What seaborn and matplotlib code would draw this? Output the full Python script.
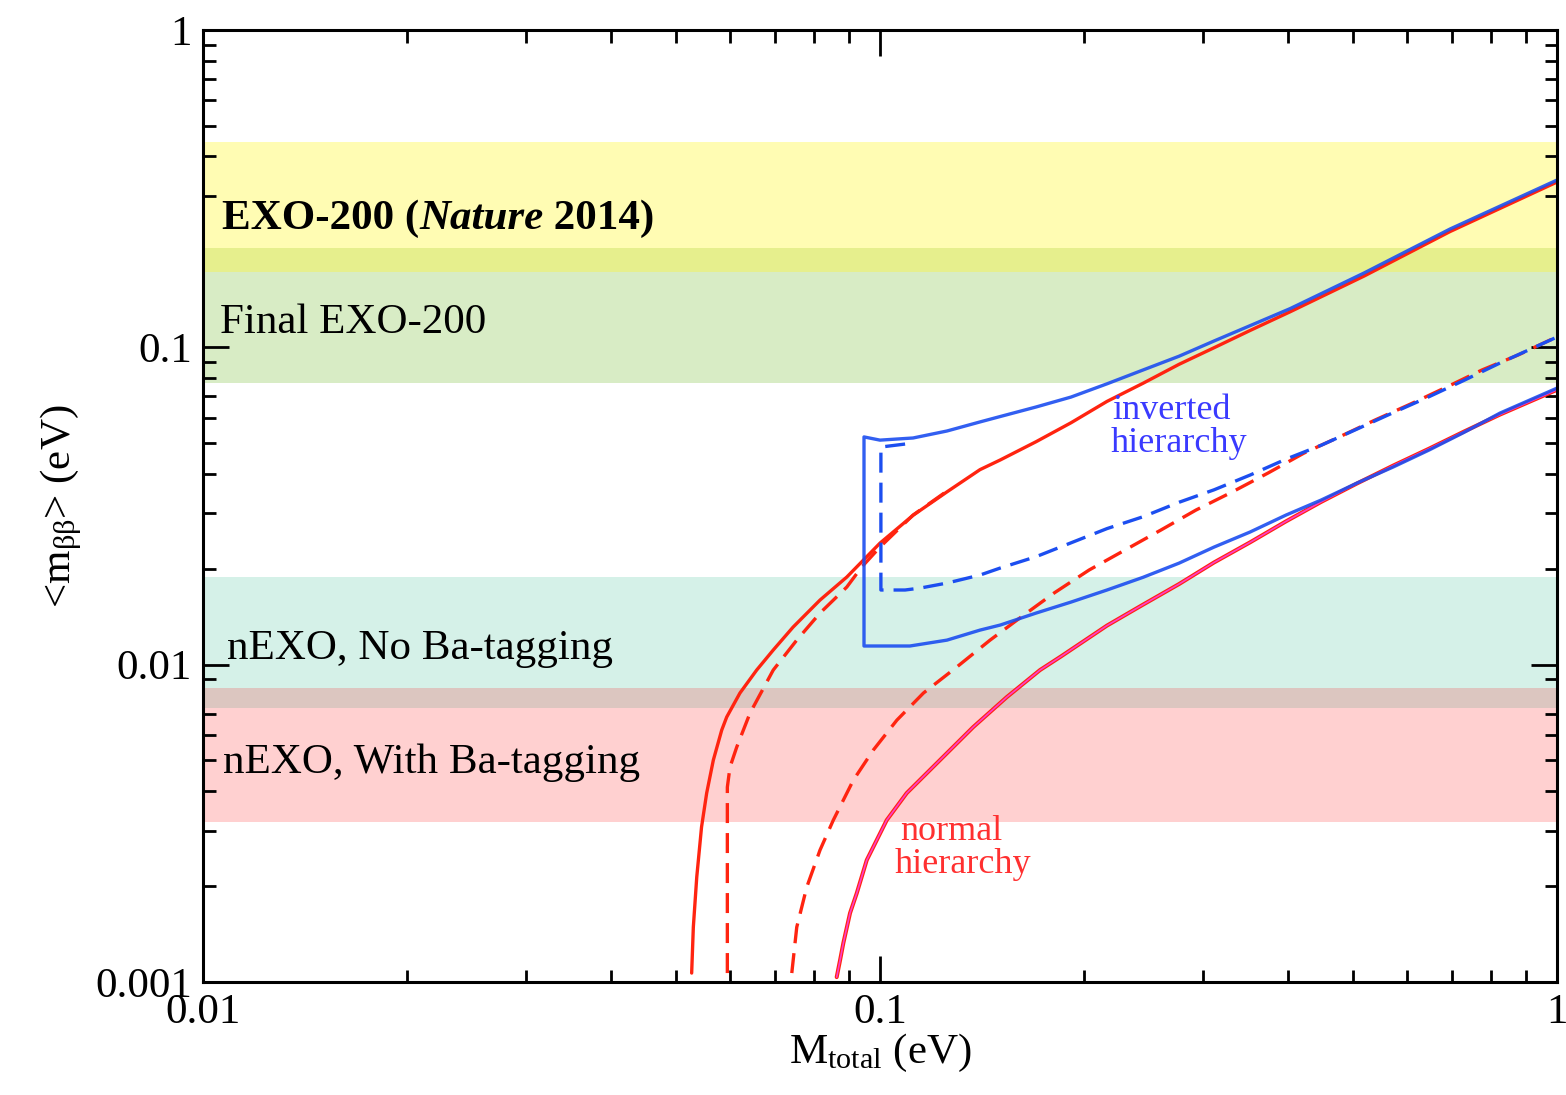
import numpy as np
import pandas as pd
import matplotlib
matplotlib.use("Agg")
import matplotlib.pyplot as plt
import seaborn as sns
from matplotlib.ticker import FixedLocator, FixedFormatter, LogLocator, NullFormatter

# ---------------- data ----------------
# Inverted hierarchy, solid: upper edge (right->left), vertical edge, lower edge (left->right)
ih_upper_x = [1.0, 0.695, 0.5187, 0.4033, 0.3114, 0.2765, 0.2445, 0.2164, 0.1915, 0.1700,
              0.1505, 0.1405, 0.1256, 0.1119, 0.1, 0.0947]
ih_upper_y = [0.3367, 0.2360, 0.1715, 0.1324, 0.1047, 0.09376, 0.08481, 0.07674, 0.06972, 0.06486,
              0.06053, 0.0582, 0.0545, 0.0518, 0.0510, 0.0522]
ih_lower_x = [0.0947, 0.1107, 0.1256, 0.1405, 0.1505, 0.1700, 0.1915, 0.2164, 0.2445, 0.2765,
              0.3114, 0.3520, 0.3978, 0.4483, 0.5065, 0.5725, 0.6470, 0.7287, 0.8239, 1.0]
ih_lower_y = [0.01145, 0.01145, 0.01195, 0.01285, 0.01333, 0.01454, 0.01575, 0.01719, 0.01884, 0.02089,
              0.02347, 0.02618, 0.02961, 0.03302, 0.03736, 0.04195, 0.04746, 0.05395, 0.06208, 0.0744]

# Inverted hierarchy, dashed
ih_dash_x = [0.1089, 0.1003, 0.1003, 0.1089, 0.1146, 0.1256, 0.1405, 0.1505, 0.1700, 0.1915,
             0.2164, 0.2445, 0.2765, 0.3114, 0.3520, 0.3978, 0.4483, 0.5065, 0.5725, 0.6470,
             0.7287, 0.8239, 0.9765, 1.0]
ih_dash_y = [0.04957, 0.04851, 0.01719, 0.01719, 0.01743, 0.01808, 0.01916, 0.02016, 0.02189, 0.02421,
             0.02684, 0.02924, 0.03249, 0.03556, 0.03958, 0.04443, 0.04914, 0.05527, 0.06223, 0.06989,
             0.07870, 0.08929, 0.10532, 0.1078]

# Normal hierarchy, upper solid
nh_max_x = [0.0527, 0.0530, 0.05362, 0.0545, 0.05546, 0.05673, 0.05837, 0.05937, 0.0621, 0.06574,
            0.06955, 0.0744, 0.08154, 0.08931, 0.1, 0.1119, 0.1256, 0.1405, 0.1505, 0.1700,
            0.1915, 0.2164, 0.2445, 0.2765, 0.3114, 0.3520, 0.4033, 0.5187, 0.695, 1.0]
nh_max_y = [0.001067, 0.001489, 0.002141, 0.003078, 0.003938, 0.005003, 0.006219, 0.006838, 0.008137, 0.009616,
            0.01112, 0.01313, 0.01598, 0.01888, 0.02416, 0.02956, 0.03505, 0.04117, 0.04416, 0.05041,
            0.05786, 0.06755, 0.07701, 0.08841, 0.09970, 0.1130, 0.1294, 0.1677, 0.2317, 0.3319]

# Normal hierarchy, upper dashed
nh_max_dash_x = [0.0595, 0.0595, 0.06004, 0.06143, 0.06427, 0.06955, 0.07534, 0.08154, 0.08931,
                 0.09397, 0.1, 0.1119, 0.1256]
nh_max_dash_y = [0.001067, 0.004113, 0.004757, 0.005499, 0.007039, 0.009616, 0.01195, 0.01454, 0.01756,
                 0.02031, 0.02348, 0.02961, 0.03525]

# Normal hierarchy, lower dashed
nh_min_dash_x = [0.07408, 0.07534, 0.07795, 0.08154, 0.08531, 0.09134, 0.09775, 0.1059, 0.1159, 0.1298,
                 0.1454, 0.1616, 0.1807, 0.2036, 0.2300, 0.2600, 0.2929, 0.3311, 0.3742, 0.4229,
                 0.4765, 0.5385, 0.6085, 0.6855, 0.7746, 0.8758, 0.9765, 1.0]
nh_min_dash_y = [0.001067, 0.001489, 0.001991, 0.002604, 0.003236, 0.004328, 0.005382, 0.006686, 0.008137, 0.009827,
                 0.01195, 0.01413, 0.01681, 0.01987, 0.02297, 0.02657, 0.03071, 0.03499, 0.04017, 0.04643,
                 0.05216, 0.05901, 0.06637, 0.07482, 0.08484, 0.09458, 0.10544, 0.1076]

# Normal hierarchy, lower solid (red with magenta overlay)
nh_min_x = [0.0863, 0.0873, 0.08828, 0.09031, 0.0924, 0.09559, 0.1023, 0.1095, 0.1226, 0.1373,
            0.1539, 0.1723, 0.1851, 0.2164, 0.2445, 0.2765, 0.3114, 0.3520, 0.3978, 0.4483,
            0.5065, 0.5725, 0.6470, 0.7287, 0.8239, 1.0]
nh_min_y = [0.001036, 0.001172, 0.001327, 0.001649, 0.001905, 0.002422, 0.003236, 0.003938, 0.005003, 0.006359,
            0.007903, 0.009616, 0.01062, 0.01328, 0.01545, 0.01795, 0.02099, 0.02429, 0.02829, 0.03258,
            0.03725, 0.04238, 0.04793, 0.05427, 0.06142, 0.0735]

# Sensitivity bands (lower, upper) in eV
band_names = ["EXO-200 (Nature 2014)", "Final EXO-200", "nEXO, No Ba-tagging", "nEXO, With Ba-tagging"]
band_lo = [0.1727, 0.0772, 0.0073, 0.00319]
band_hi = [0.4436, 0.2056, 0.0189, 0.00844]

x_ticks = [0.01, 0.1, 1]
x_tick_labels = ["0.01", "0.1", "1"]
y_ticks = [0.001, 0.01, 0.1, 1]
y_tick_labels = ["0.001", "0.01", "0.1", "1"]

# ---------------- style ----------------
sns.set_theme(style="ticks")
plt.rcParams["font.family"] = ["Liberation Serif", "DejaVu Serif"]
plt.rcParams["mathtext.fontset"] = "custom"
plt.rcParams["mathtext.rm"] = "Liberation Serif"
plt.rcParams["mathtext.it"] = "Liberation Serif:italic"
plt.rcParams["mathtext.bf"] = "Liberation Serif:bold"
plt.rcParams["text.color"] = "black"
plt.rcParams["axes.labelcolor"] = "black"
plt.rcParams["xtick.color"] = "black"
plt.rcParams["ytick.color"] = "black"
plt.rcParams["xtick.labelcolor"] = "black"
plt.rcParams["ytick.labelcolor"] = "black"

BLUE = "#1c4ef0"
RED = "#ff2410"
MAGENTA = "#ff3cc8"
FS = 31

fig = plt.figure(figsize=(15.66, 10.95), dpi=100)
ax = fig.add_axes([0.1296, 0.1032, 0.8647, 0.8694])
ax.set_xscale("log")
ax.set_yscale("log")
ax.set_xlim(0.01, 1)
ax.set_ylim(0.001, 1)

# bands
band_colors = ["#fffcb3", "#d8ecc5", "#d5f1e8", "#ffd0d0"]
for lo, hi, c in zip(band_lo, band_hi, band_colors):
    ax.axhspan(lo, hi, color=c, lw=0, zorder=0.5)
# overlaps
ax.axhspan(band_lo[0], band_hi[1], color="#e6ef8d", lw=0, zorder=0.6)
ax.axhspan(band_lo[2], band_hi[3], color="#dcc6c0", lw=0, zorder=0.6)

LW = 2.4
dash = (0, (6, 3))

def line(xs, ys, color, ls="-", lw=LW, z=3, alpha=1.0):
    df = pd.DataFrame({"x": xs, "y": ys})
    sns.lineplot(data=df, x="x", y="y", sort=False, estimator=None, ax=ax,
                 color=color, linestyle=ls, linewidth=lw, zorder=z, alpha=alpha,
                 solid_joinstyle="round", solid_capstyle="round")

ih_solid_x = ih_upper_x + ih_lower_x
ih_solid_y = ih_upper_y + ih_lower_y

line(nh_max_x, nh_max_y, RED, z=3)
line(nh_max_dash_x, nh_max_dash_y, RED, ls=dash, z=3)
line(nh_min_dash_x, nh_min_dash_y, RED, ls=dash, z=3)
line(nh_min_x, nh_min_y, RED, lw=2.9, z=3)
line(nh_min_x, nh_min_y, MAGENTA, lw=1.2, z=3.5)
line(ih_solid_x, ih_solid_y, BLUE, z=4, alpha=0.9)
line(ih_dash_x, ih_dash_y, BLUE, ls=dash, z=4)

# ticks
ax.xaxis.set_major_locator(FixedLocator(x_ticks))
ax.xaxis.set_major_formatter(FixedFormatter(x_tick_labels))
ax.yaxis.set_major_locator(FixedLocator(y_ticks))
ax.yaxis.set_major_formatter(FixedFormatter(y_tick_labels))
ax.xaxis.set_minor_locator(LogLocator(base=10, subs=np.arange(2, 10)))
ax.yaxis.set_minor_locator(LogLocator(base=10, subs=np.arange(2, 10)))
ax.xaxis.set_minor_formatter(NullFormatter())
ax.yaxis.set_minor_formatter(NullFormatter())
ax.tick_params(which="both", direction="in", top=True, right=True, color="black")
ax.tick_params(which="major", length=19, width=2.0, labelsize=FS, pad=8)
ax.tick_params(which="minor", length=9, width=2.0)
for s in ax.spines.values():
    s.set_linewidth(2.2)
    s.set_color("black")
    s.set_zorder(5)

ax.set_xlabel(r"M$_{\mathrm{total}}$ (eV)", fontsize=FS, labelpad=0, color="black")
ax.set_ylabel(r"<m$_{\mathrm{ββ}}$> (eV)", fontsize=FS, labelpad=8, color="black")

# band labels
fig.canvas.draw()
renderer = fig.canvas.get_renderer()
t1 = ax.text(0.014, 0.791, "EXO-200 (", transform=ax.transAxes, fontsize=FS,
             fontweight="bold", va="baseline", ha="left", zorder=6, color="black")
bb = t1.get_window_extent(renderer)
x2 = ax.transAxes.inverted().transform((bb.x1, 0))[0]
t2 = ax.text(x2, 0.791, "Nature", transform=ax.transAxes, fontsize=FS,
             fontweight="bold", fontstyle="italic", va="baseline", ha="left", zorder=6, color="black")
bb = t2.get_window_extent(renderer)
x3 = ax.transAxes.inverted().transform((bb.x1, 0))[0]
ax.text(x3, 0.791, " 2014)", transform=ax.transAxes, fontsize=FS,
        fontweight="bold", va="baseline", ha="left", zorder=6, color="black")

ax.text(0.0126, 0.682, band_names[1], transform=ax.transAxes, fontsize=FS,
        va="baseline", ha="left", zorder=6, color="black")
ax.text(0.018, 0.339, band_names[2], transform=ax.transAxes, fontsize=FS,
        va="baseline", ha="left", zorder=6, color="black")
ax.text(0.015, 0.2195, band_names[3], transform=ax.transAxes, fontsize=FS,
        va="baseline", ha="left", zorder=6, color="black")

# hierarchy labels
ax.text(0.6713, 0.5914, "inverted", transform=ax.transAxes, fontsize=26,
        color="#3a3aff", va="baseline", ha="left", zorder=6)
ax.text(0.670, 0.5567, "hierarchy", transform=ax.transAxes, fontsize=26,
        color="#3a3aff", va="baseline", ha="left", zorder=6)
ax.text(0.5148, 0.1492, "normal", transform=ax.transAxes, fontsize=26,
        color="#ff3030", va="baseline", ha="left", zorder=6)
ax.text(0.511, 0.1145, "hierarchy", transform=ax.transAxes, fontsize=26,
        color="#ff3030", va="baseline", ha="left", zorder=6)

fig.savefig("out.png", dpi=100, facecolor="white")
